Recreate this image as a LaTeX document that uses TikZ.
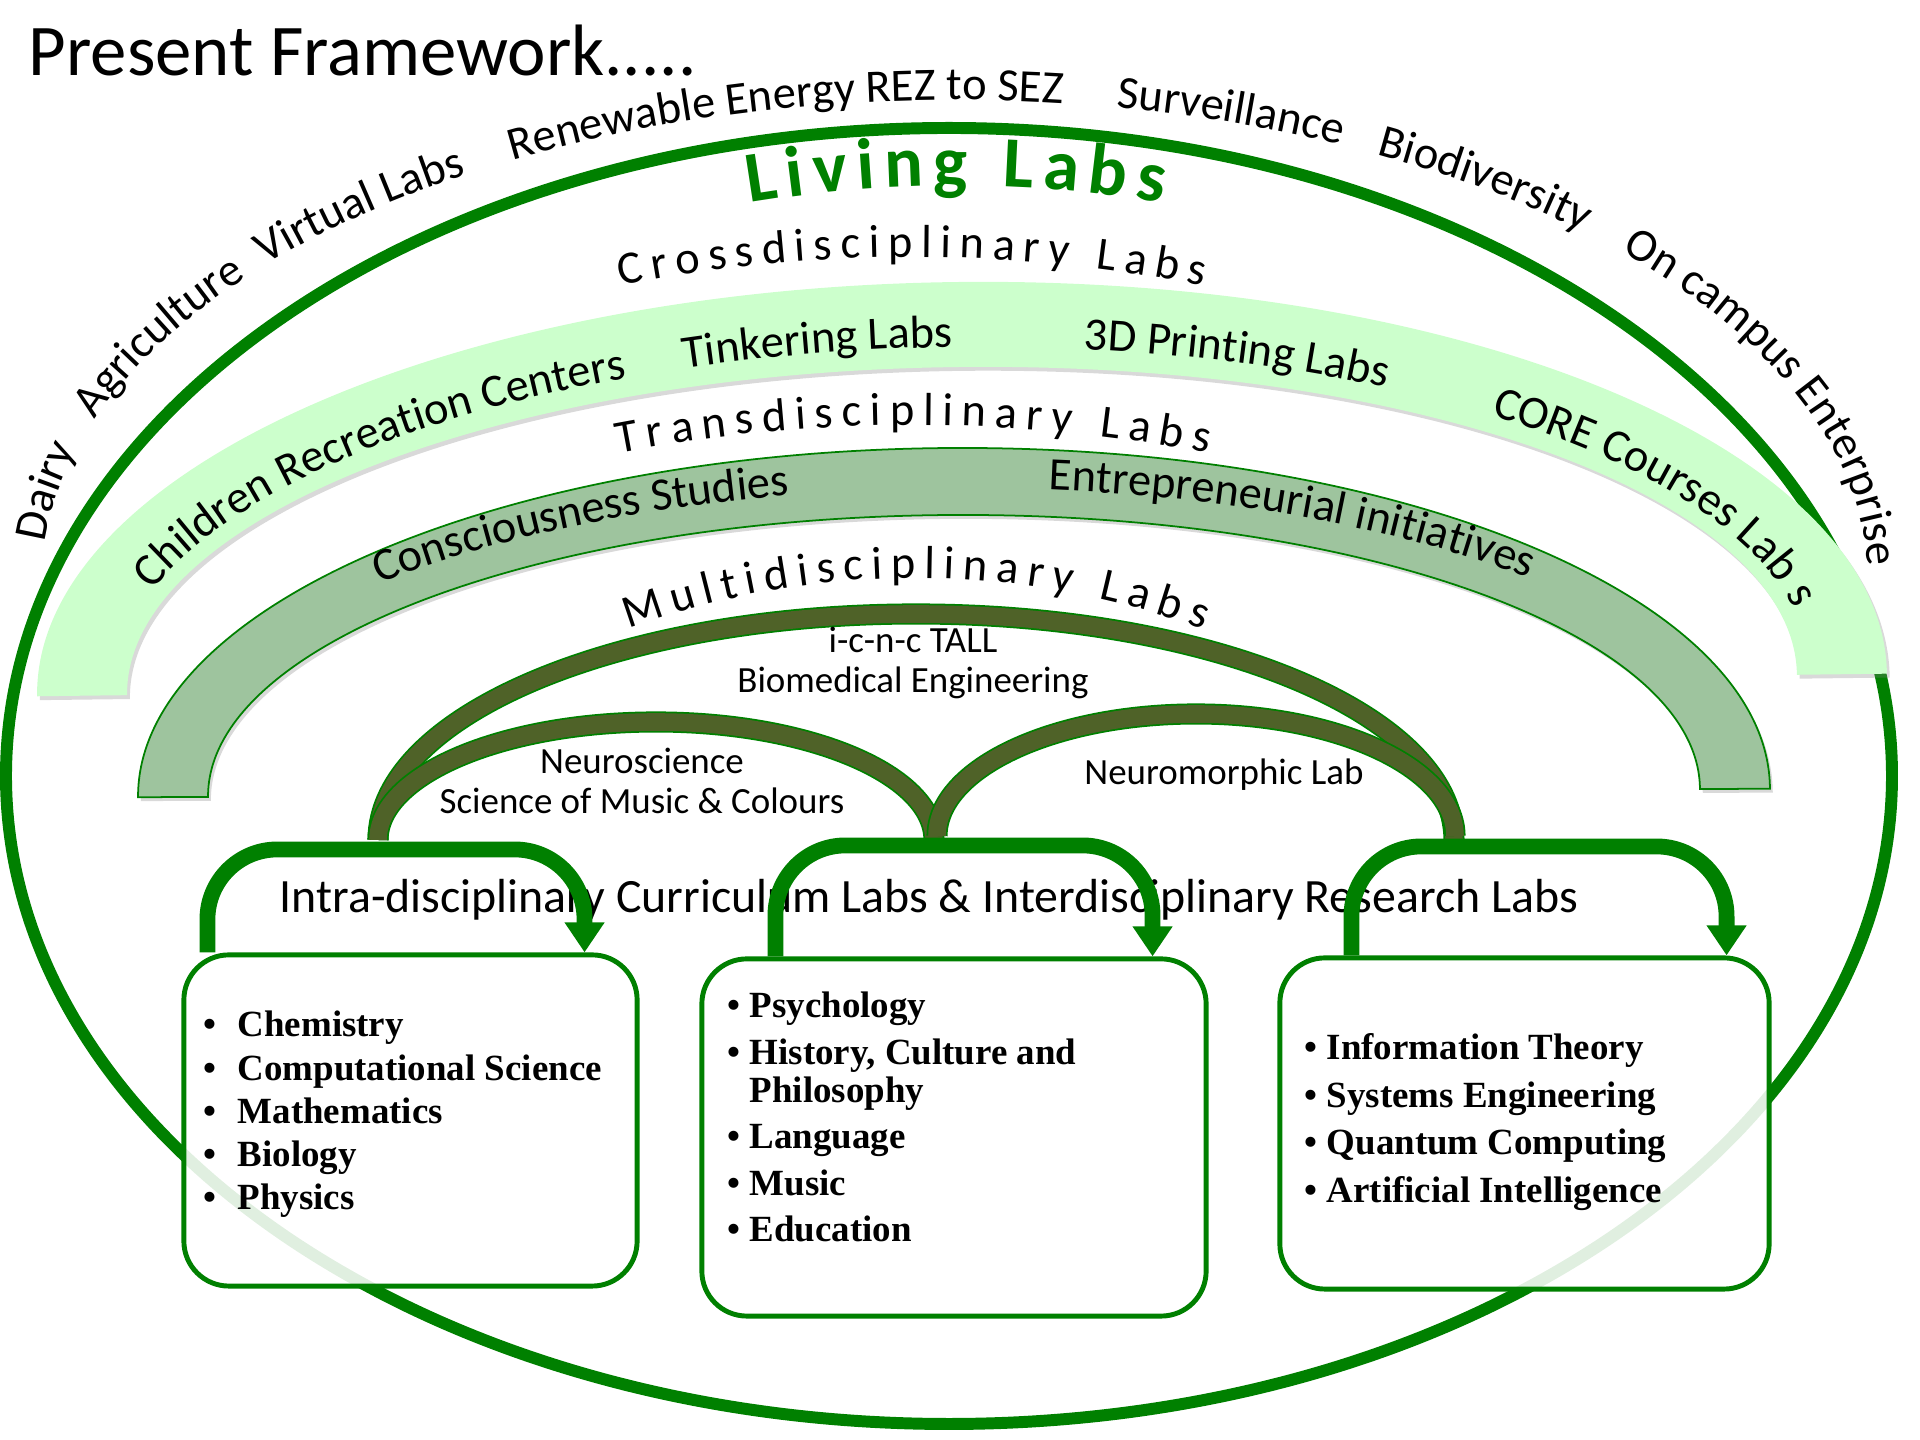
\documentclass[tikz,border=0pt]{standalone}
\usepackage{fontspec}
\setmainfont{Carlito}
\newfontfamily\listfont{Liberation Serif}
\usepackage{tikz}
\usetikzlibrary{arrows.meta,decorations.text,shadows}

\definecolor{ringgreen}{RGB}{0,128,0}
\definecolor{crossgreen}{RGB}{204,255,204}
\definecolor{transgreen}{RGB}{158,196,158}
\definecolor{multiolive}{RGB}{79,98,40}

\newcommand{\titlefont}{\fontsize{20.7}{24}\selectfont}
\newcommand{\ringfont}{\fontsize{13.2}{15.8}\selectfont}
\newcommand{\labelfont}{\fontsize{10.5}{12.6}\selectfont}

\begin{document}
\begin{tikzpicture}[x=0.01cm,y=0.01cm]

\tikzset{ring/.style={draw=ringgreen,line width=3.4pt},
  crossband/.style={fill=crossgreen,drop shadow={shadow xshift=0.8pt,shadow yshift=-1.1pt,opacity=0.3}},
  transband/.style={fill=transgreen,draw=ringgreen,line width=0.5pt,drop shadow={shadow xshift=0.8pt,shadow yshift=-1.1pt,opacity=0.3}},
  multiarc/.style={draw=ringgreen,line width=0.5pt,double=multiolive,double distance=5pt},
  looparrow/.style={draw=ringgreen,line width=4.5pt,rounded corners=0.7cm,-{Triangle[width=0.38cm,length=0.3cm]}},
  labbox/.style={draw=ringgreen,line width=1.4pt,rounded corners=0.45cm,fill=white,fill opacity=0.88},
  arctext/.style={decorate,decoration={text along path,text/.expanded={|\noexpand\ringfont|#1}}},
  spacedtext/.style={decorate,decoration={text along path,text align={fit to path},text={|\ringfont|#1}}},
  labtext/.style={font=\labelfont,anchor=base},
  listtext/.style={font=\listfont\bfseries,anchor=base west,inner sep=0pt}}

\useasboundingbox (0,0) rectangle (1920,1440);

% outer ring
\draw[ring] (949,664) ellipse [x radius=943,y radius=648];

\begin{scope}[shift={(955,860)}]
\foreach \ang/\word in {175.5/Dairy,160.5/Agriculture,139/Virtual Labs,119/Renewable Energy REZ to SEZ,79.8/Surveillance,62.5/Biodiversity,43.1/On campus Enterprise}
  \path[arctext=\word] (\ang:913 and 480) arc[start angle=\ang,delta angle=-70,x radius=913,y radius=480];
\end{scope}

% crossdisciplinary band
\begin{scope}[shift={(962,755)},rotate=0.7]
\path[crossband] (0:925 and 403) arc[start angle=0,end angle=180,x radius=925,y radius=403]
  -- (180:835 and 318) arc[start angle=180,end angle=0,x radius=835,y radius=318] -- cycle;
\foreach \ang/\word in {162/Children Recreation Centers,108.8/Tinkering Labs,81.5/3D Printing Labs,51.2/CORE Courses Lab s}
  \path[arctext=\word] (\ang:850 and 338) arc[start angle=\ang,delta angle=-60,x radius=850,y radius=338];
\end{scope}

% transdisciplinary band
\begin{scope}[shift={(954,647)},rotate=0.3]
\path[transband] (0:816 and 345) arc[start angle=0,end angle=180,x radius=816,y radius=345]
  -- (180:746 and 278) arc[start angle=180,end angle=0,x radius=746,y radius=278] -- cycle;
\foreach \ang/\word in {135.8/Consciousness Studies,83.1/Entrepreneurial initiatives}
  \path[arctext=\word] (\ang:800 and 305) arc[start angle=\ang,delta angle=-60,x radius=800,y radius=305];
\end{scope}

% multidisciplinary arcs
\draw[multiarc] (378,600) arc[start angle=180,end angle=0,x radius=538,y radius=226];
\draw[multiarc] (378,600) arc[start angle=180,end angle=0,x radius=278,y radius=118];
\draw[multiarc] (937,604) arc[start angle=180,end angle=0,x radius=259,y radius=122];

% spaced headings
\path[decorate,decoration={text along path,text align={fit to path},
  text={|\bfseries\fontsize{20.5}{24}\selectfont\color{ringgreen}|Living Labs}}]
  (956,-13) ++(99.4:1267) arc[start angle=99.4,end angle=80.6,radius=1267];
\path[spacedtext={Crossdisciplinary Labs}] (912,-303) ++(101.3:1486) arc[start angle=101.3,end angle=78.7,radius=1486];
\path[spacedtext={Transdisciplinary Labs}] (913,-545) ++(100.9:1560) arc[start angle=100.9,end angle=79.1,radius=1560];
\path[spacedtext={Multidisciplinary Labs}] (915,28) ++(110.1:834) arc[start angle=110.1,end angle=69.8,radius=834];

% labels
\node[font=\titlefont,anchor=base west,inner sep=0pt] (title) at (28,1364) {Present Framework.....};
\node[labtext] (icnc) at (913,787) {i-c-n-c TALL};
\node[labtext] (biomed) at (913,747) {Biomedical Engineering};
\node[labtext] (neuro) at (642,666) {Neuroscience};
\node[labtext] (music) at (642,626) {Science of Music \& Colours};
\node[labtext] (morph) at (1224,655) {Neuromorphic Lab};
\node[font=\fontsize{13.6}{16}\selectfont,anchor=base] (intra) at (929,527) {Intra-disciplinary Curriculum Labs \& Interdisciplinary Research Labs};

% lab boxes
\node[labbox,minimum width=4.53cm,minimum height=3.31cm] (sciencebox) at (410.5,319.5) {};
\node[labbox,minimum width=5.04cm,minimum height=3.57cm] (humanbox) at (954,302.5) {};
\node[labbox,minimum width=4.89cm,minimum height=3.31cm] (techbox) at (1524.5,316.5) {};

\node[listtext] (sciencelist) at (203,403) {\fontsize{10.5}{12.3}\selectfont
  \begin{tabular}[t]{@{}l@{\hspace{6pt}}l@{}}
  \textbullet & Chemistry\\ \textbullet & Computational Science\\ \textbullet & Mathematics\\
  \textbullet & Biology\\ \textbullet & Physics
  \end{tabular}};
\node[listtext] (humanlist) at (727,422) {\fontsize{10.5}{13.2}\selectfont
  \begin{tabular}[t]{@{}l@{\hspace{2.6pt}}l@{}}
  \textbullet & Psychology\\ \textbullet & History, Culture and\\[-2.4pt] & Philosophy\\
  \textbullet & Language\\ \textbullet & Music\\ \textbullet & Education
  \end{tabular}};
\node[listtext] (techlist) at (1304,380) {\fontsize{10.5}{13.5}\selectfont
  \begin{tabular}[t]{@{}l@{\hspace{2.6pt}}l@{}}
  \textbullet & Information Theory\\ \textbullet & Systems Engineering\\
  \textbullet & Quantum Computing\\ \textbullet & Artificial Intelligence
  \end{tabular}};

% loop arrows
\draw[looparrow] ([xshift=0.26cm]sciencebox.north west) -- ++(0,103) -| ([xshift=-0.55cm]sciencebox.north east);
\draw[looparrow] ([xshift=0.76cm]humanbox.north west) -- ++(0,111) -| ([xshift=-0.56cm]humanbox.north east);
\draw[looparrow] ([xshift=0.74cm]techbox.north west) -- ++(0,109) -| ([xshift=-0.45cm]techbox.north east);

\end{tikzpicture}
\end{document}
